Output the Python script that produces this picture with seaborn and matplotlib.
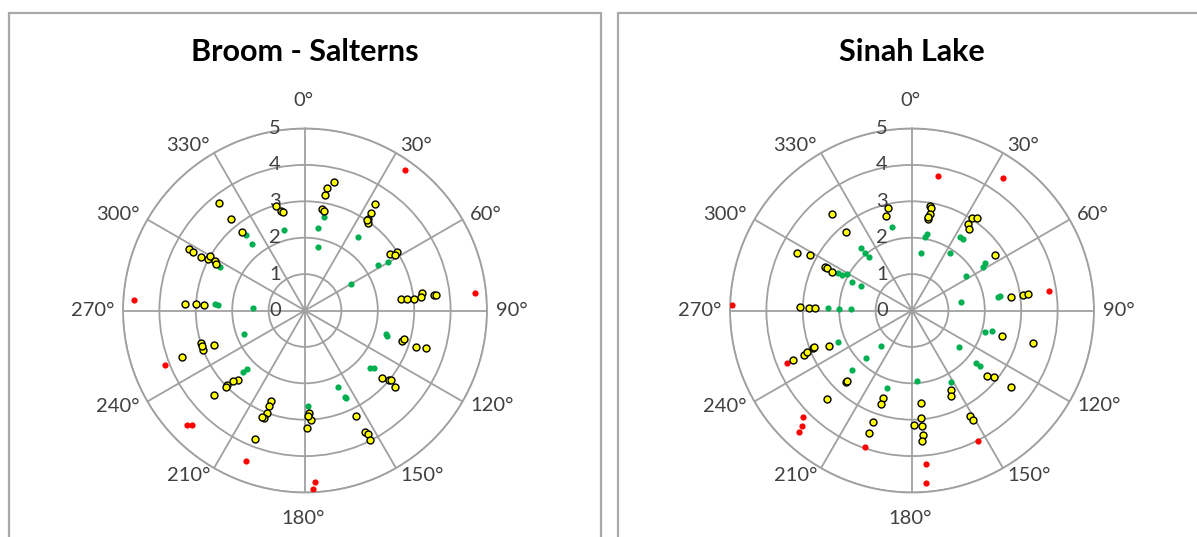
import numpy as np
import pandas as pd
import matplotlib
matplotlib.use("Agg")
import matplotlib.pyplot as plt
from matplotlib.patches import Rectangle
from matplotlib.transforms import ScaledTranslation
import seaborn as sns

# ---------------------------------------------------------------- data
panel_titles = ["Broom - Salterns", "Sinah Lake"]

angle_ticks = [0, 30, 60, 90, 120, 150, 180, 210, 240, 270, 300, 330]
angle_tick_labels = ["0°", "30°", "60°", "90°", "120°", "150°", "180°",
                     "210°", "240°", "270°", "300°", "330°"]
radial_ticks = [0, 1, 2, 3, 4, 5]
radial_tick_labels = ["0", "1", "2", "3", "4", "5"]

# Broom - Salterns
broom_yellow_deg = [12.8, 10.1, 9.8, 9.4, 10.8,
                    33.3, 34.2, 34.5, 35.8, 34.3,
                    56.4, 57.5, 58.3,
                    83.3, 83.8, 84.1, 81.6, 83.2, 83.3, 83.4,
                    107.6, 106.0, 108.1, 107.3,
                    131.0, 129.6, 129.2, 130.3,
                    154.1, 153.8, 153.0, 153.3,
                    177.6, 177.0, 179.2, 178.2,
                    200.7, 200.5, 200.5, 200.8, 202.2, 201.3,
                    224.3, 225.4, 226.6, 226.1, 227.2,
                    252.7, 249.1, 249.4, 250.9, 249.4,
                    273.1, 273.4, 273.0,
                    298.0, 297.5, 297.4, 298.1, 299.8, 298.8, 297.5,
                    321.3, 321.0, 321.0,
                    344.3, 346.5, 347.6]
broom_yellow_r = [3.63, 3.41, 3.22, 2.82, 2.78,
                  3.50, 3.23, 3.04, 2.97, 3.01,
                  2.80, 3.01, 2.90,
                  2.65, 2.83, 3.02, 3.24, 3.20, 3.57, 3.62,
                  2.79, 2.83, 3.21, 3.48,
                  2.82, 3.00, 3.04, 3.24,
                  3.21, 3.73, 3.80, 3.97,
                  2.81, 3.02, 3.22, 2.90,
                  2.66, 2.81, 3.00, 3.17, 3.15, 3.78,
                  2.65, 2.77, 2.96, 3.02, 3.40,
                  2.99, 3.01, 2.66, 3.00, 3.62,
                  3.29, 3.00, 2.78,
                  3.61, 3.48, 3.21, 3.02, 3.01, 2.82, 2.75,
                  3.77, 3.23, 2.77,
                  2.98, 2.82, 2.78]
broom_green_deg = [11.6, 9.2, 11.8, 35.8, 59.9, 58.0, 60.0, 106.0, 107.0,
                   131.4, 129.7, 156.4, 155.1, 154.8, 178.0, 224.5, 225.3,
                   249.2, 273.9, 273.5, 272.4, 297.3, 321.9, 321.4, 345.4]
broom_green_r = [2.63, 2.29, 1.79, 2.50, 2.64, 2.36, 1.46, 2.32, 2.36,
                 2.38, 2.46, 2.29, 2.61, 2.65, 2.63, 2.27, 2.41,
                 1.78, 2.48, 2.40, 1.44, 2.63, 2.64, 2.34, 2.29]
broom_red_deg = [35.4, 84.0, 176.7, 177.3, 201.5, 226.0, 224.8, 248.7, 273.5]
broom_red_r = [4.74, 4.70, 4.73, 4.90, 4.43, 4.51, 4.42, 4.13, 4.70]

# Sinah Lake
sinah_yellow_deg = [9.8, 10.5, 10.6, 9.8, 9.9,
                    32.9, 35.1, 32.8, 35.0,
                    56.2,
                    82.1, 82.1, 81.9,
                    105.9, 105.1,
                    131.2, 128.8, 127.8,
                    153.9, 155.4, 151.2, 151.0,
                    174.4, 175.2, 178.8, 175.2, 174.8, 175.7,
                    198.6, 198.5, 199.5, 199.2,
                    222.8, 222.7, 223.6,
                    247.4, 247.5, 248.6, 249.0, 249.7, 246.9,
                    271.6, 271.2, 271.3,
                    296.5, 298.5, 296.7, 296.3, 295.8,
                    320.1, 320.1,
                    347.0, 344.6]
sinah_yellow_r = [2.91, 2.86, 2.70, 2.54, 2.62,
                  3.02, 3.09, 2.83, 2.73,
                  2.74,
                  2.75, 3.09, 3.23,
                  2.56, 3.45,
                  2.73, 2.90, 3.44,
                  2.43, 2.57, 3.31, 3.44,
                  2.54, 2.97, 3.15, 3.18, 3.43, 3.59,
                  2.53, 2.72, 3.24, 3.57,
                  2.67, 2.62, 3.37,
                  3.53, 3.20, 3.11, 2.90, 2.86, 2.47,
                  3.08, 2.82, 2.66,
                  3.52, 3.19, 2.68, 2.61, 2.45,
                  3.44, 2.82,
                  2.88, 2.69]
sinah_green_deg = [10.9, 10.0, 8.9, 33.0, 35.8, 33.6, 57.3, 56.8, 58.4,
                   80.9, 80.9, 79.8, 106.2, 104.1, 127.9, 129.7, 129.2,
                   176.2, 151.5, 197.7, 221.6, 223.9, 225.4, 246.7,
                   271.5, 271.5, 271.5, 295.5, 295.5, 296.8, 297.0, 299.2,
                   320.5, 320.9, 321.0, 346.3]
sinah_green_r = [2.13, 2.06, 1.61, 2.42, 2.41, 1.89, 1.75, 2.40, 2.30,
                 2.40, 2.45, 1.37, 2.09, 2.27, 1.65, 2.27, 2.41,
                 1.93, 2.25, 2.23, 1.29, 1.82, 2.33, 2.21,
                 2.30, 2.00, 1.68, 1.84, 1.56, 2.27, 2.15, 2.06,
                 2.21, 2.05, 1.88, 2.35]
sinah_red_deg = [11.1, 34.5, 81.9, 153.3, 174.9, 175.5, 199.0, 225.7, 223.7,
                 223.0, 247.4, 271.7]
sinah_red_r = [3.76, 4.43, 3.80, 4.01, 4.23, 4.76, 3.96, 4.20, 4.39,
               4.55, 3.73, 4.96]

# ---------------------------------------------------------------- style
sns.set_style("white")
plt.rcParams["font.family"] = ["Lato", "DejaVu Sans"]

GRID = "#a0a0a0"
TEXT = "#404040"
YELLOW = "#ffff00"
GREEN = "#00b050"
RED = "#ff0000"

W, H = 1197, 537
fig = plt.figure(figsize=(W / 100, H / 100), dpi=100)

# panel frames
frame_kw = dict(transform=fig.transFigure, fill=False, edgecolor="#a9a9a9",
                linewidth=1.6, clip_on=False)
fig.add_artist(Rectangle((9 / W, -0.2), (600.5 - 9) / W, 1.2 - 12.7 / H, **frame_kw))
fig.add_artist(Rectangle((618.3 / W, -0.2), 0.6, 1.2 - 12.7 / H, **frame_kw))

radius_px = 182
centres = [(305, 310.5), (912, 310.5)]

panels = [
    (broom_yellow_deg, broom_yellow_r, broom_green_deg, broom_green_r,
     broom_red_deg, broom_red_r),
    (sinah_yellow_deg, sinah_yellow_r, sinah_green_deg, sinah_green_r,
     sinah_red_deg, sinah_red_r),
]


def px(dx, dy):
    """Offset in screen pixels (y downwards) as a figure transform."""
    return ScaledTranslation(dx / 100, -dy / 100, fig.dpi_scale_trans)


for (cx, cy), title, series in zip(centres, panel_titles, panels):
    rect = [(cx - radius_px) / W, (H - cy - radius_px) / H,
            2 * radius_px / W, 2 * radius_px / H]
    ax = fig.add_axes(rect, projection="polar")
    ax.set_theta_zero_location("N")
    ax.set_theta_direction(-1)

    yd, yr, gd, gr, rd, rr = series
    red_df = pd.DataFrame({"theta": np.deg2rad(rd), "r": rr})
    green_df = pd.DataFrame({"theta": np.deg2rad(gd), "r": gr})
    yellow_df = pd.DataFrame({"theta": np.deg2rad(yd), "r": yr})
    sns.scatterplot(data=red_df, x="theta", y="r", ax=ax, color=RED,
                    s=20, linewidth=0, zorder=3, legend=False)
    sns.scatterplot(data=green_df, x="theta", y="r", ax=ax, color=GREEN,
                    s=20, linewidth=0, zorder=3, legend=False)
    sns.scatterplot(data=yellow_df, x="theta", y="r", ax=ax, color=YELLOW,
                    edgecolor="black", s=25, linewidth=1.0, zorder=4,
                    legend=False)

    ax.set_xlabel("")
    ax.set_ylabel("")
    ax.set_ylim(0, 5)
    ax.set_thetagrids(angle_ticks, [""] * len(angle_ticks))
    ax.set_rgrids(radial_ticks[1:], labels=[""] * (len(radial_ticks) - 1))
    ax.grid(True, color=GRID, linewidth=1.3)
    ax.spines["polar"].set_color(GRID)
    ax.spines["polar"].set_linewidth(1.3)
    ax.tick_params(axis="both", length=0)

    # angle labels sit just outside the end of each spoke
    for ang, lab in zip(angle_ticks, angle_tick_labels):
        s, c = np.sin(np.deg2rad(ang)), np.cos(np.deg2rad(ang))
        if abs(s) < 0.1:
            ha, dx, dy = "center", -2, (-28 if c > 0 else 26)
        else:
            gap = 10 * abs(s) - 1
            ha = "left" if s > 0 else "right"
            dx, dy = np.sign(s) * gap, -9 * c
        ax.text(np.deg2rad(ang), 5, lab, transform=ax.transData + px(dx, dy),
                ha=ha, va="center", fontsize=14.5, color=TEXT)

    # radial labels along the 0° spoke
    for r, lab in zip(radial_ticks, radial_tick_labels):
        ax.text(0, r, lab, transform=ax.transData + px(-30, 0),
                ha="center", va="center", fontsize=14.5, color=TEXT)

    fig.text(cx / W, 1 - 52 / H, title, ha="center", va="center",
             fontsize=22, fontweight="bold", color="black")

fig.savefig("out.png", dpi=100)
